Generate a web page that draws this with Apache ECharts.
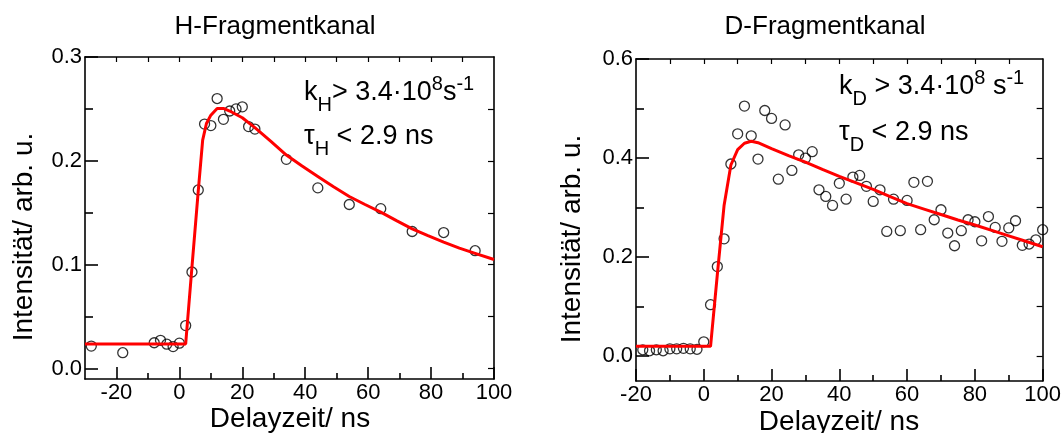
<!DOCTYPE html>
<html>
<head>
<meta charset="utf-8">
<script src="https://cdn.jsdelivr.net/npm/echarts@6.0.0/dist/echarts.min.js"></script>
<style>
html, body { margin: 0; padding: 0; background: #ffffff; }
#chart { width: 1064px; height: 433px; }
</style>
</head>
<body>
<div id="chart"></div>
<script>
// ---------- Data: H fragment channel ----------
const hDelay  = [-28, -18, -8, -6, -4, -2, 0, 2, 4, 6, 8, 10, 12, 14, 16, 18, 20, 22, 24, 34, 44, 54, 64, 74, 84, 94];
const hSignal = [0.0217, 0.0153, 0.0249, 0.0272, 0.0235, 0.0212, 0.0245, 0.0414, 0.093, 0.172, 0.2354, 0.234, 0.260, 0.240, 0.248, 0.250, 0.252, 0.233, 0.2306, 0.2015, 0.174, 0.158, 0.154, 0.132, 0.131, 0.1135];
const hFitDelay  = [-30, 2, 4, 6, 7.4, 8.6, 10, 12, 14, 16, 20, 24, 29, 34, 39, 44, 49, 54, 59, 64, 69, 74, 79, 84, 89, 94, 100];
const hFitSignal = [0.0238, 0.0238, 0.098, 0.171, 0.220, 0.236, 0.244, 0.2505, 0.2505, 0.248, 0.2415, 0.232, 0.219, 0.2056, 0.195, 0.185, 0.175, 0.1657, 0.158, 0.1506, 0.1425, 0.1346, 0.128, 0.1218, 0.116, 0.111, 0.105];

// ---------- Data: D fragment channel ----------
const dDelay  = [-18, -16, -14, -12, -10, -8, -6, -4, -2, 0, 2, 4, 6, 8, 10, 12, 14, 16, 18, 20, 22, 24, 26, 28, 30, 32, 34, 36, 38, 40, 42, 44, 46, 48, 50, 52, 54, 56, 58, 60, 62, 64, 66, 68, 70, 72, 74, 76, 78, 80, 82, 84, 86, 88, 90, 92, 94, 96, 98, 100];
const dSignal = [0.013, 0.011, 0.013, 0.011, 0.015, 0.015, 0.016, 0.015, 0.014, 0.029, 0.104, 0.181, 0.237, 0.388, 0.449, 0.505, 0.445, 0.398, 0.496, 0.480, 0.3575, 0.467, 0.375, 0.4066, 0.400, 0.413, 0.336, 0.3226, 0.3044, 0.349, 0.317, 0.3616, 0.365, 0.343, 0.3125, 0.336, 0.252, 0.317, 0.2534, 0.3145, 0.351, 0.2554, 0.353, 0.2755, 0.2957, 0.2487, 0.223, 0.2534, 0.2755, 0.2715, 0.233, 0.282, 0.260, 0.232, 0.259, 0.2735, 0.2238, 0.2265, 0.235, 0.2554];
const dFitDelay  = [-20, 2, 4, 6, 8, 10, 12, 14, 16, 20, 25, 30, 35, 40, 45, 50, 55, 60, 65, 70, 75, 80, 85, 90, 95, 100];
const dFitSignal = [0.020, 0.020, 0.165, 0.305, 0.386, 0.417, 0.430, 0.434, 0.431, 0.419, 0.405, 0.392, 0.377, 0.363, 0.350, 0.337, 0.322, 0.308, 0.297, 0.286, 0.275, 0.265, 0.254, 0.243, 0.232, 0.221];

// ---------- Tick values ----------
const xMajorTicks  = [-20, 0, 20, 40, 60, 80, 100];
const hXMinorTicks = [-10, 10, 30, 50, 70, 90];
const hXTopTicks   = [-20, -10, 0, 10, 20, 30, 40, 50, 60, 70, 80, 90];
const dXMinorTicks = [-10, 10, 30, 50, 70, 90];
const dXTopTicks   = [-10, 0, 10, 20, 30, 40, 50, 60, 70, 80, 90];
const hYMajorTicks = [0, 0.1, 0.2, 0.3];
const hYMinorTicks = [0.05, 0.15, 0.25];
const hYRightTicks = [0, 0.05, 0.1, 0.15, 0.2, 0.25];
const dYMajorTicks = [0, 0.2, 0.4, 0.6];
const dYMinorTicks = [0.1, 0.3, 0.5];
const dYRightTicks = [0, 0.1, 0.2, 0.3, 0.4, 0.5];

// ---------- Texts ----------
const titles = ['H-Fragmentkanal', 'D-Fragmentkanal'];
const xName = 'Delayzeit/ ns';
const yName = 'Intensität/ arb. u.';

const FONT = '"Liberation Sans", Arial, Helvetica, sans-serif';
const BLACK = '#000000';

function zip(a, b) { return a.map((v, i) => [v, b[i]]); }

function xAxes(g, min, max, major, minor, top) {
  return [
    { gridIndex: g, type: 'value', min: min, max: max, position: 'bottom',
      axisLine: { show: true, onZero: false, lineStyle: { color: BLACK, width: 1.6 } },
      axisTick: { show: true, inside: true, length: 12, customValues: major, lineStyle: { color: BLACK, width: 1.6 } },
      axisLabel: { show: true, customValues: major, margin: 3, color: BLACK, fontSize: 22, fontFamily: FONT },
      splitLine: { show: false } },
    { gridIndex: g, type: 'value', min: min, max: max, position: 'bottom',
      axisLine: { show: false, onZero: false },
      axisTick: { show: true, inside: true, length: 6, customValues: minor, lineStyle: { color: BLACK, width: 1.6 } },
      axisLabel: { show: false }, splitLine: { show: false } },
    { gridIndex: g, type: 'value', min: min, max: max, position: 'top',
      axisLine: { show: true, onZero: false, lineStyle: { color: BLACK, width: 1.6 } },
      axisTick: { show: true, inside: true, length: 5, customValues: top, lineStyle: { color: BLACK, width: 1.2 } },
      axisLabel: { show: false }, splitLine: { show: false } }
  ];
}

function yAxes(g, min, max, major, minor, right) {
  return [
    { gridIndex: g, type: 'value', min: min, max: max, position: 'left',
      axisLine: { show: true, onZero: false, lineStyle: { color: BLACK, width: 1.6 } },
      axisTick: { show: true, inside: true, length: 13, customValues: major, lineStyle: { color: BLACK, width: 1.6 } },
      axisLabel: { show: true, customValues: major, margin: 3, color: BLACK, fontSize: 22, fontFamily: FONT,
                   formatter: v => Number(v).toFixed(1) },
      splitLine: { show: false } },
    { gridIndex: g, type: 'value', min: min, max: max, position: 'left',
      axisLine: { show: false, onZero: false },
      axisTick: { show: true, inside: true, length: 8, customValues: minor, lineStyle: { color: BLACK, width: 1.6 } },
      axisLabel: { show: false }, splitLine: { show: false } },
    { gridIndex: g, type: 'value', min: min, max: max, position: 'right',
      axisLine: { show: true, onZero: false, lineStyle: { color: BLACK, width: 1.6 } },
      axisTick: { show: true, inside: true, length: 6, customValues: right, lineStyle: { color: BLACK, width: 1.2 } },
      axisLabel: { show: false }, splitLine: { show: false } }
  ];
}

function scatter(g, data) {
  return { type: 'scatter', xAxisIndex: 3 * g, yAxisIndex: 3 * g, data: data,
           symbol: 'circle', symbolSize: 10, silent: true,
           itemStyle: { color: 'rgba(0,0,0,0)', borderColor: BLACK, borderWidth: 1.3 }, z: 3 };
}
function fit(g, data) {
  return { type: 'line', xAxisIndex: 3 * g, yAxisIndex: 3 * g, data: data, showSymbol: false,
           lineStyle: { color: '#ff0000', width: 3 }, itemStyle: { color: '#ff0000' }, silent: true, z: 4 };
}

const rich = {
  m: { fontSize: 27, lineHeight: 44, fontFamily: FONT, color: BLACK },
  s: { fontSize: 20, lineHeight: 20, verticalAlign: 'bottom', fontFamily: FONT, color: BLACK },
  p: { fontSize: 20, lineHeight: 20, verticalAlign: 'top', padding: [3, 0, 0, 0], fontFamily: FONT, color: BLACK }
};

function txt(x, y, text, opts) {
  return Object.assign({ type: 'text', x: x, y: y, silent: true,
    style: Object.assign({ text: text, fill: BLACK, font: '26px ' + FONT, align: 'center', verticalAlign: 'middle' }, opts || {}) });
}

const option = {
  backgroundColor: '#ffffff',
  animation: false,
  grid: [
    { left: 85, top: 57, width: 409, height: 322, show: false },
    { left: 636, top: 59, width: 407, height: 322, show: false }
  ],
  xAxis: [].concat(
    xAxes(0, -30, 100, xMajorTicks, hXMinorTicks, hXTopTicks),
    xAxes(1, -20, 100, xMajorTicks, dXMinorTicks, dXTopTicks)
  ),
  yAxis: [].concat(
    yAxes(0, -0.01, 0.3, hYMajorTicks, hYMinorTicks, hYRightTicks),
    yAxes(1, -0.05, 0.6, dYMajorTicks, dYMinorTicks, dYRightTicks)
  ),
  series: [
    scatter(0, zip(hDelay, hSignal)),
    fit(0, zip(hFitDelay, hFitSignal)),
    scatter(1, zip(dDelay, dSignal)),
    fit(1, zip(dFitDelay, dFitSignal))
  ],
  graphic: [
    txt(275, 27, titles[0]),
    txt(825, 27, titles[1]),
    txt(290, 419, xName, { font: '28px ' + FONT }),
    txt(839, 422, xName, { font: '28px ' + FONT }),
    Object.assign(txt(24, 237, yName, { font: '28px ' + FONT }), { rotation: Math.PI / 2 }),
    Object.assign(txt(572, 239, yName, { font: '28px ' + FONT }), { rotation: Math.PI / 2 }),
    { type: 'text', x: 304, y: 71, silent: true,
      style: { text: '{m|k}{s|H}{m|> 3.4·10}{p|8}{m|s}{p|-1}', rich: rich, align: 'left', verticalAlign: 'top' } },
    { type: 'text', x: 304, y: 115, silent: true,
      style: { text: '{m|τ}{s|H}{m| < 2.9 ns}', rich: rich, align: 'left', verticalAlign: 'top' } },
    { type: 'text', x: 839, y: 65, silent: true,
      style: { text: '{m|k}{s|D}{m| > 3.4·10}{p|8}{m| s}{p|-1}', rich: rich, align: 'left', verticalAlign: 'top' } },
    { type: 'text', x: 839, y: 111, silent: true,
      style: { text: '{m|τ}{s|D}{m| < 2.9 ns}', rich: rich, align: 'left', verticalAlign: 'top' } }
  ]
};

const chart = echarts.init(document.getElementById('chart'), null, { renderer: 'canvas' });
chart.setOption(option);
</script>
</body>
</html>
